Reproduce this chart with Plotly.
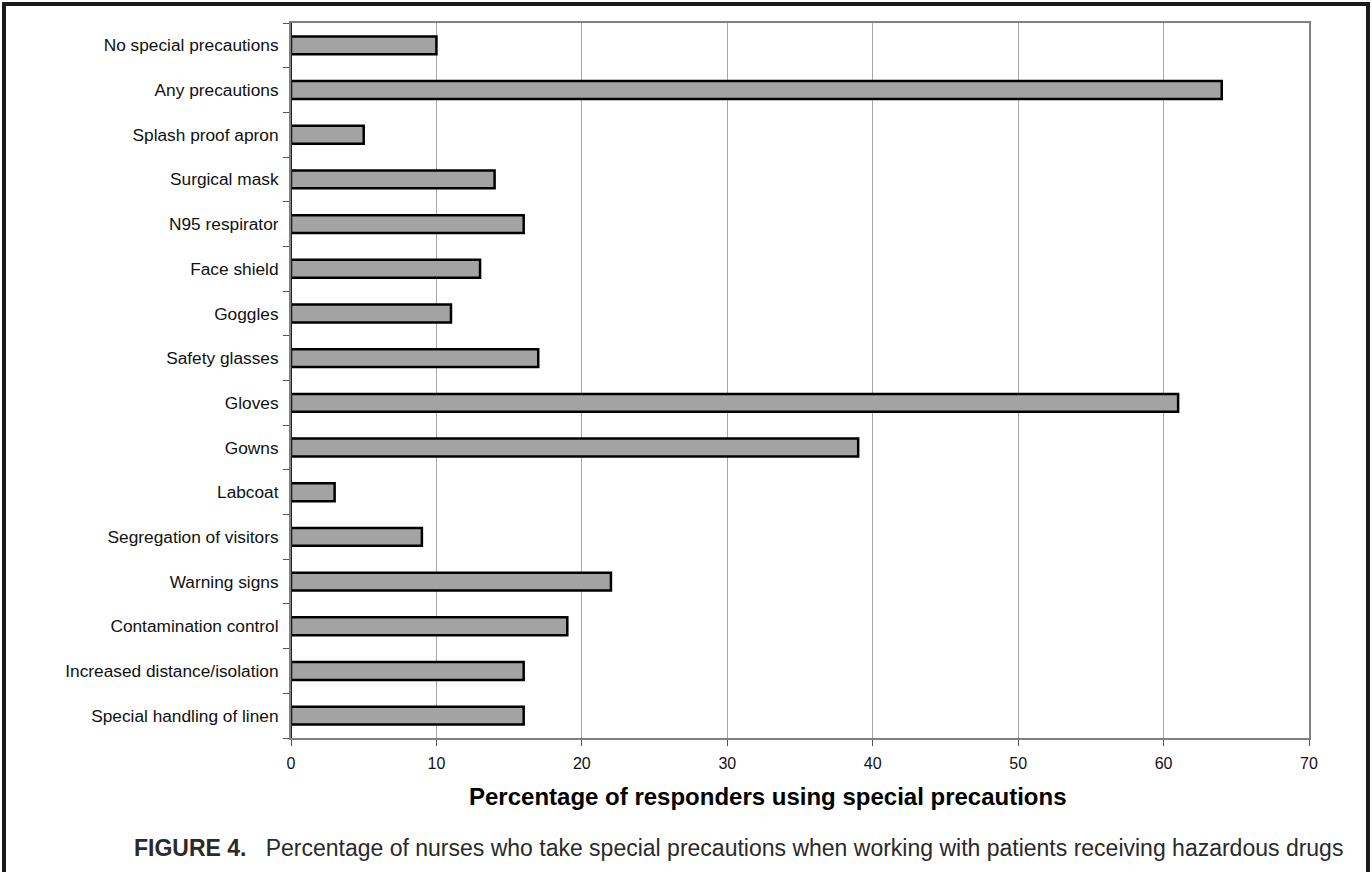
import plotly.graph_objects as go

# Precaution categories, listed top to bottom
categories = [
    "No special precautions",
    "Any precautions",
    "Splash proof apron",
    "Surgical mask",
    "N95 respirator",
    "Face shield",
    "Goggles",
    "Safety glasses",
    "Gloves",
    "Gowns",
    "Labcoat",
    "Segregation of visitors",
    "Warning signs",
    "Contamination control",
    "Increased distance/isolation",
    "Special handling of linen",
]
# Percentage of responders using each precaution
percentages = [10, 64, 5, 14, 16, 13, 11, 17, 61, 39, 3, 9, 22, 19, 16, 16]
x_ticks = [0, 10, 20, 30, 40, 50, 60, 70]

W, H = 1372, 872
L, R, T, B = 291, 63, 23, 134
pw, ph = W - L - R, H - T - B


def px_x(p):
    return (p - L) / pw


def px_y(p):
    return (H - B - p) / ph


fig = go.Figure(
    go.Bar(
        x=percentages,
        y=categories,
        orientation="h",
        marker=dict(color="#a3a3a3", line=dict(color="#000000", width=2.5)),
        hoverinfo="x+y",
    )
)

font = "Liberation Sans, Arial, Helvetica, sans-serif"

fig.update_layout(
    width=W,
    height=H,
    margin=dict(l=L, r=R, t=T, b=B),
    paper_bgcolor="white",
    plot_bgcolor="white",
    bargap=0.6,
    showlegend=False,
    font=dict(family=font, size=16, color="#111111"),
)

fig.update_xaxes(
    range=[0, 70],
    tickvals=x_ticks,
    ticks="outside",
    ticklen=6,
    tickcolor="#555555",
    tickfont=dict(size=16, color="#111111"),
    ticklabelstandoff=4,
    showgrid=True,
    gridcolor="#a8a8a8",
    gridwidth=1,
    zeroline=False,
    showline=True,
    linecolor="#808080",
    linewidth=2,
    mirror=True,
    fixedrange=True,
)

fig.update_yaxes(
    categoryorder="array",
    categoryarray=categories[::-1],
    autorange=False,
    range=[-0.5, len(categories) - 0.5],
    ticks="outside",
    tickson="boundaries",
    ticklen=6,
    tickcolor="#555555",
    tickfont=dict(size=17.3, color="#111111"),
    ticklabelstandoff=7,
    showgrid=False,
    zeroline=False,
    showline=True,
    linecolor="#808080",
    linewidth=2,
    mirror=True,
    fixedrange=True,
)

# Darker value axis at x = 0
fig.add_shape(
    type="line", xref="x", yref="paper", x0=0, x1=0, y0=0, y1=1,
    line=dict(color="#222222", width=2),
)

# Axis title under the tick labels
fig.add_annotation(
    text="<b>Percentage of responders using special precautions</b>",
    xref="paper", yref="paper",
    x=px_x(768), y=px_y(796),
    showarrow=False, xanchor="center", yanchor="middle",
    font=dict(family=font, size=24, color="#000000"),
)

# Figure caption
fig.add_annotation(
    text="<b>FIGURE 4.</b>   Percentage of nurses who take special precautions "
         "when working with patients receiving hazardous drugs",
    xref="paper", yref="paper",
    x=px_x(738), y=px_y(848),
    showarrow=False, xanchor="center", yanchor="middle",
    font=dict(family=font, size=23, color="#2a2a2a"),
)

# Outer frame of the figure
fig.add_shape(
    type="rect", xref="paper", yref="paper",
    x0=px_x(4), x1=px_x(1368), y0=px_y(900), y1=px_y(4),
    line=dict(color="#1a1a1a", width=4),
    layer="below",
)

fig.write_html("out.html")
